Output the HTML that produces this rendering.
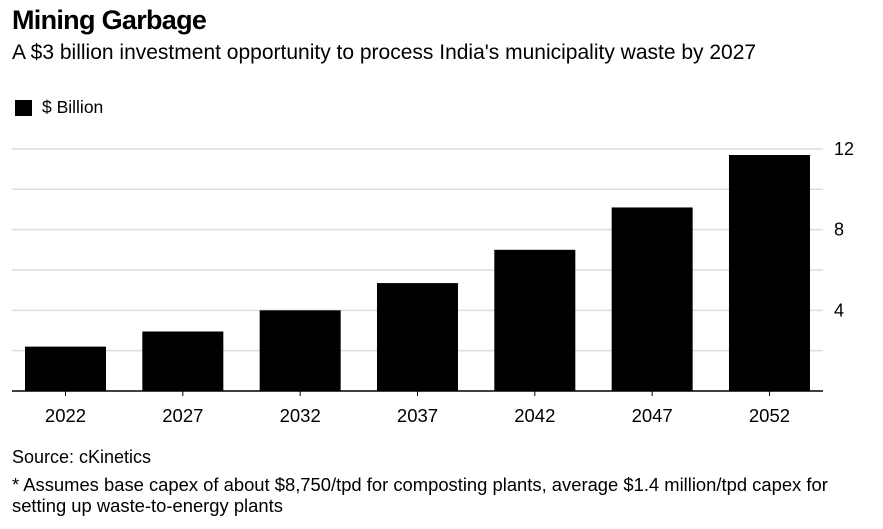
<!DOCTYPE html>
<html><head><meta charset="utf-8"><style>
body{margin:0;width:883px;height:529px;background:#fff;font-family:"Liberation Sans",Arial,sans-serif;color:#000;overflow:hidden;position:relative}
.t{position:absolute;white-space:nowrap}
</style></head><body>
<div class="t" style="left:12px;top:5px;font-size:27px;font-weight:bold;letter-spacing:-0.7px">Mining Garbage</div>
<div class="t" style="left:12px;top:41px;font-size:21px">A $3 billion investment opportunity to process India's municipality waste by 2027</div>
<div style="position:absolute;left:15px;top:100px;width:17px;height:16px;background:#000"></div>
<div class="t" style="left:42px;top:97px;font-size:17.5px">$ Billion</div>
<svg id="chart" width="883" height="529" style="position:absolute;left:0;top:0"></svg>
<div class="t" style="left:12px;top:447px;font-size:18px">Source: cKinetics</div>
<div class="t" style="left:12px;top:474px;font-size:18.4px;line-height:21px">* Assumes base capex of about $8,750/tpd for composting plants, average $1.4 million/tpd capex for<br>setting up waste-to-energy plants</div>
<script>
const categories=["2022","2027","2032","2037","2042","2047","2052"];
const values=[2.2,2.95,4.0,5.35,7.0,9.1,11.7];
const yTicks=[2,4,6,8,10,12];
const yLabels=["","4","","8","","12"];
const svg=document.getElementById('chart');
const NS="http://www.w3.org/2000/svg";
const x0=12,x1=823,yBase=391,pxPerUnit=20.17;
const y=v=>yBase-v*pxPerUnit;
const step=117.33;
const xc=i=>65.5+step*i;
function mk(t,a){const e=document.createElementNS(NS,t);for(const k in a)e.setAttribute(k,a[k]);svg.appendChild(e);return e;}
yTicks.forEach((v,i)=>{
 const l=mk('line',{x1:x0,x2:x1,y1:y(v),y2:y(v),stroke:'#dcdcdc','stroke-width':1.5});
 
 
 if(yLabels[i]){const t=mk('text',{x:834,y:y(v)+6,'font-size':18,fill:'#000'});t.textContent=yLabels[i];
 
 }
});
values.forEach((v,i)=>{
 const r=mk('rect',{x:xc(i)-40.5,y:y(v),width:81,height:yBase-y(v),fill:'#000'});
 
 
 const tk=mk('line',{x1:xc(i),x2:xc(i),y1:yBase,y2:yBase+5,stroke:'#000','stroke-width':1});
 
 
 const t=mk('text',{x:xc(i),y:yBase+31,'font-size':18.5,'text-anchor':'middle',fill:'#000'});t.textContent=categories[i];
 
 
});
const ax=mk('line',{x1:x0,x2:x1,y1:yBase,y2:yBase,stroke:'#000','stroke-width':1.5});


</script>
</body></html>
